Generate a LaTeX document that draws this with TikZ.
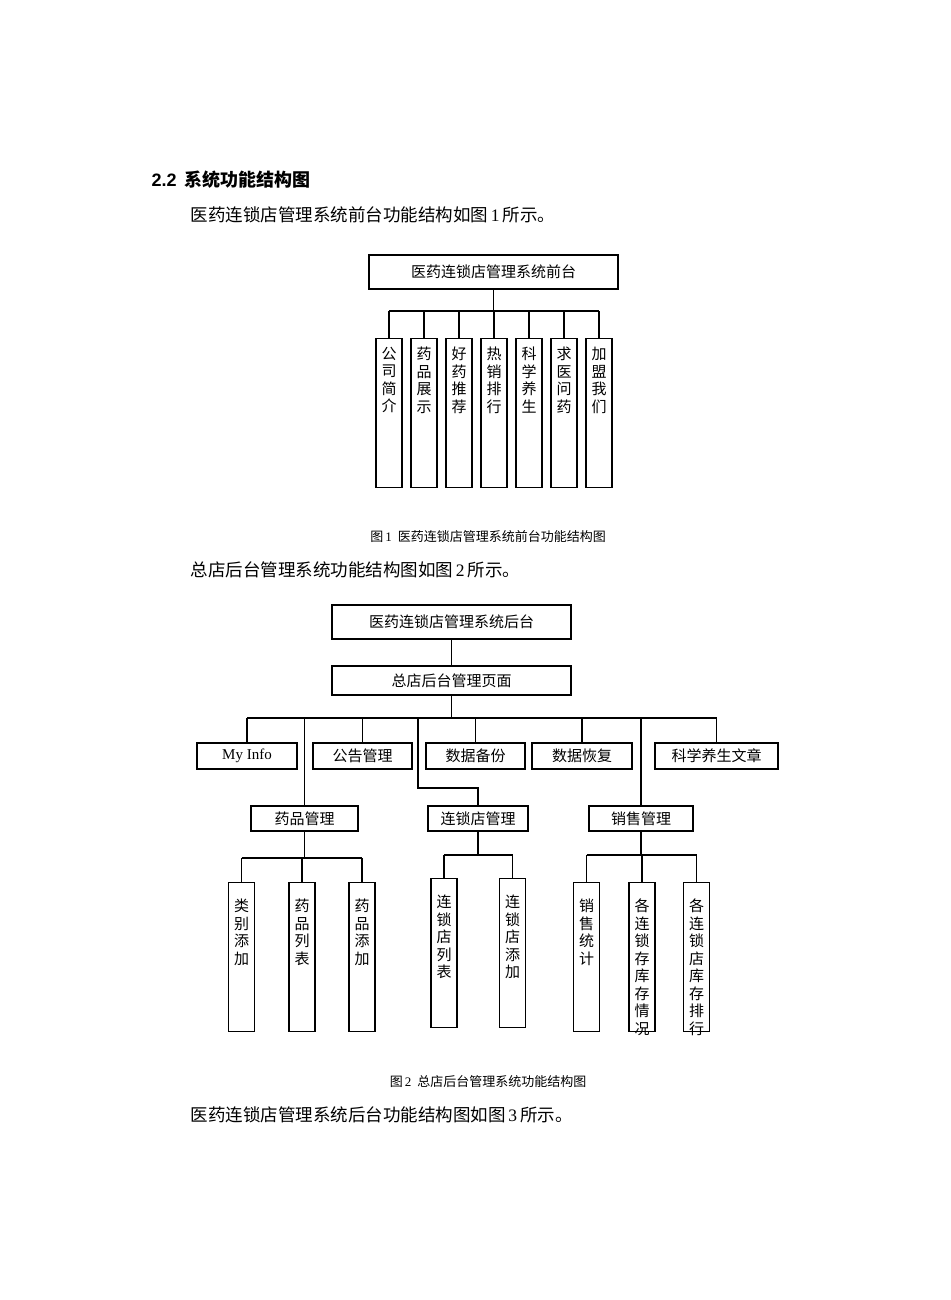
\documentclass[tikz,border=0pt]{standalone}
\usepackage{fontspec}
\setmainfont{Liberation Serif}
\newfontfamily\cjk{Noto Sans CJK SC}
\begin{document}
\begin{tikzpicture}[x=1pt,y=-1pt,
  box/.style={draw,line width=1.2pt,inner sep=0pt,font=\cjk\fontsize{15}{17}\selectfont},
  vtxt/.style={anchor=north,inner sep=0pt,align=center,font=\cjk\fontsize{15}{17.5}\selectfont},
  ln/.style={line width=1.2pt}]
\useasboundingbox (0,0) rectangle (950,1300);
% texts
\node[anchor=west,font=\cjk\bfseries\fontsize{18}{20}\selectfont] (h) at (148,180) {{\fontspec{Liberation Sans}2.2}\ \ 系统功能结构图};
\node[anchor=west,font=\cjk\fontsize{17.5}{20}\selectfont] (t1) at (187,215) {医药连锁店管理系统前台功能结构如图\,{\rmfamily 1}\,所示。};
\node[font=\cjk\fontsize{13}{15}\selectfont] (c1) at (488,537) {图\,{\rmfamily 1}\ \ 医药连锁店管理系统前台功能结构图};
\node[anchor=west,font=\cjk\fontsize{17.5}{20}\selectfont] (t2) at (187,570) {总店后台管理系统功能结构图如图\,{\rmfamily 2}\,所示。};
\node[font=\cjk\fontsize{13}{15}\selectfont] (c2) at (488,1082) {图\,{\rmfamily 2}\ \ 总店后台管理系统功能结构图};
\node[anchor=west,font=\cjk\fontsize{17.5}{20}\selectfont] (t3) at (187,1115) {医药连锁店管理系统后台功能结构图如图\,{\rmfamily 3}\,所示。};
% figure 1
\node[box,minimum width=249,minimum height=34] (f1) at (493.5,272) {医药连锁店管理系统前台};
\coordinate (b1) at (493.5,311);
\draw[ln] (f1.south) -- (b1);
\draw[ln] (389,311) -- (599,311);
\foreach \i/\t in {0/公\\司\\简\\介,1/药\\品\\展\\示,2/好\\药\\推\\荐,3/热\\销\\排\\行,4/科\\学\\养\\生,5/求\\医\\问\\药,6/加\\盟\\我\\们}{
  \node[box,minimum width=26,minimum height=149,anchor=north] (v\i) at (389+35*\i,338) {};
  \node[vtxt] (vt\i) at ([yshift=-9]v\i.north) {\t};
  \draw[ln] (v\i.north) -- (389+35*\i,311);
}
% figure 2
\node[box,minimum width=239,minimum height=34] (g1) at (451.5,622) {医药连锁店管理系统后台};
\node[box,minimum width=239,minimum height=29] (g2) at (451.5,680.5) {总店后台管理页面};
\draw[ln] (g1) -- (g2);
\coordinate (bus) at (451.5,718);
\draw[ln] (g2.south) -- (bus);
\draw[ln] (247,718) -- (717,718);
\node[box,minimum width=100,minimum height=26] (m1) at (247,756) {\rmfamily My Info};
\node[box,minimum width=99,minimum height=26] (m2) at (362.5,756) {公告管理};
\node[box,minimum width=99,minimum height=26] (m3) at (475.5,756) {数据备份};
\node[box,minimum width=100,minimum height=26] (m4) at (582,756) {数据恢复};
\node[box,minimum width=123,minimum height=26] (m5) at (716.5,756) {科学养生文章};
\foreach \i in {1,...,5}{\draw[ln] (m\i.north) -- (m\i.north |- bus);}
\node[box,minimum width=107,minimum height=25] (d1) at (304.5,818.5) {药品管理};
\node[box,minimum width=100,minimum height=25] (d2) at (478,818.5) {连锁店管理};
\node[box,minimum width=104,minimum height=25] (d3) at (641,818.5) {销售管理};
\draw[ln] (d1.north) -- (304.5,718);
\draw[ln] (d2.north) -- (478,788) -- (418,788) -- (418,718);
\draw[ln] (d3.north) -- (641,718);
% sub trees
\draw[ln] (d1.south) -- (304.5,858); \draw[ln] (241.5,858) -- (362,858);
\foreach \n/\x/\t in {a/241.5/类\\别\\添\\加,b/302/药\\品\\列\\表,c/362/药\\品\\添\\加}{
  \node[box,minimum width=26,minimum height=149,anchor=north] (s\n) at (\x,882) {};
  \node[vtxt] at ([yshift=-17]s\n.north) {\t};
  \draw[ln] (s\n.north) -- (\x,858);}
\draw[ln] (d2.south) -- (478,855); \draw[ln] (444,855) -- (512.5,855);
\foreach \n/\x/\t in {d/444/连\\锁\\店\\列\\表,e/512.5/连\\锁\\店\\添\\加}{
  \node[box,minimum width=26,minimum height=149,anchor=north] (s\n) at (\x,878) {};
  \node[vtxt] at ([yshift=-17]s\n.north) {\t};
  \draw[ln] (s\n.north) -- (\x,855);}
\draw[ln] (d3.south) -- (641,855); \draw[ln] (586.5,855) -- (696.5,855);
\foreach \n/\x/\t in {f/586.5/销\\售\\统\\计,g/642/各\\连\\锁\\存\\库\\存\\情\\况,h/696.5/各\\连\\锁\\店\\库\\存\\排\\行}{
  \node[box,minimum width=26,minimum height=149,anchor=north] (s\n) at (\x,882) {};
  \node[vtxt] at ([yshift=-17]s\n.north) {\t};
  \draw[ln] (s\n.north) -- (\x,855);}
\end{tikzpicture}
\end{document}
